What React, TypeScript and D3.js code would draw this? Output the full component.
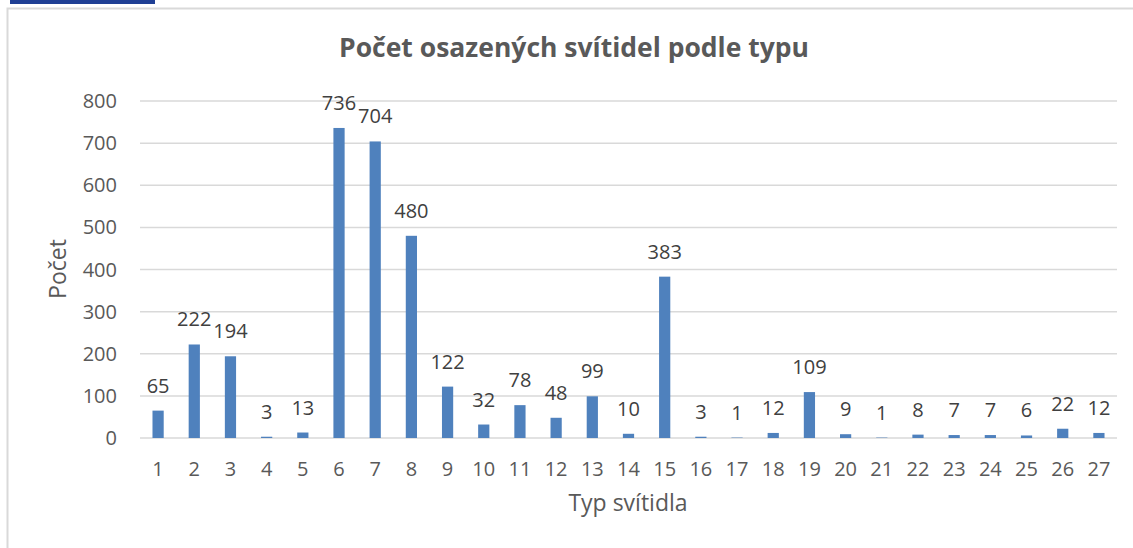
import React, { useEffect, useRef } from 'react';
import * as d3 from 'd3';

const categories = Array.from({ length: 27 }, (_, i) => String(i + 1));
const values = [65, 222, 194, 3, 13, 736, 704, 480, 122, 32, 78, 48, 99, 10, 383, 3, 1, 12, 109, 9, 1, 8, 7, 7, 6, 22, 12];
const yTicks = [0, 100, 200, 300, 400, 500, 600, 700, 800];

const title = 'Počet osazených svítidel podle typu';
const xTitle = 'Typ svítidla';
const yTitle = 'Počet';

const App = () => {
  const ref = useRef<SVGSVGElement>(null);

  useEffect(() => {
    if (!ref.current) return;
    const svg = d3.select(ref.current);
    svg.selectAll('*').remove();

    const width = 1133;
    const height = 548;
    const margin = { top: 101, right: 16, bottom: 110, left: 140 };
    const font = '"Open Sans", "Noto Sans", sans-serif';

    // frame of the chart area + top strip
    svg.append('rect').attr('x', 10).attr('y', 0).attr('width', 145).attr('height', 4).attr('fill', '#1f3f94');
    svg.append('path')
      .attr('d', `M7.5,${height} L7.5,8.5 L${width},8.5`)
      .attr('fill', 'none').attr('stroke', '#d9d9d9').attr('stroke-width', 2);

    const x = d3.scaleBand()
      .domain(categories)
      .range([margin.left, width - margin.right])
      .paddingInner(0.69)
      .paddingOuter(0.345);

    const y = d3.scaleLinear()
      .domain([0, 800])
      .range([height - margin.bottom, margin.top]);

    // grid
    svg.append('g')
      .selectAll('line')
      .data(yTicks)
      .join('line')
      .attr('x1', margin.left)
      .attr('x2', width - margin.right)
      .attr('y1', d => y(d))
      .attr('y2', d => y(d))
      .attr('stroke', '#d9d9d9')
      .attr('stroke-width', 1.5);

    // y tick labels
    svg.append('g')
      .selectAll('text')
      .data(yTicks)
      .join('text')
      .attr('x', 117)
      .attr('y', d => y(d) + 7)
      .attr('text-anchor', 'end')
      .attr('font-family', font)
      .attr('font-size', 20)
      .attr('fill', '#595959')
      .text(d => d);

    // bars
    svg.append('g')
      .attr('fill', '#4f81bd')
      .selectAll('rect')
      .data(values)
      .join('rect')
      .attr('x', (d, i) => x(categories[i])!)
      .attr('y', d => y(d))
      .attr('width', x.bandwidth())
      .attr('height', d => y(0) - y(d));

    // data labels
    svg.append('g')
      .selectAll('text')
      .data(values)
      .join('text')
      .attr('x', (d, i) => x(categories[i])! + x.bandwidth() / 2)
      .attr('y', d => y(d) - 18)
      .attr('text-anchor', 'middle')
      .attr('font-family', font)
      .attr('font-size', 20)
      .attr('fill', '#404040')
      .text(d => d);

    // x tick labels
    svg.append('g')
      .selectAll('text')
      .data(categories)
      .join('text')
      .attr('x', d => x(d)! + x.bandwidth() / 2)
      .attr('y', 476)
      .attr('text-anchor', 'middle')
      .attr('font-family', font)
      .attr('font-size', 20)
      .attr('fill', '#595959')
      .text(d => d);

    svg.append('text')
      .attr('x', 574)
      .attr('y', 57)
      .attr('text-anchor', 'middle')
      .attr('font-family', font)
      .attr('font-size', 26.5)
      .attr('font-weight', 'bold')
      .attr('fill', '#595959')
      .text(title);

    svg.append('text')
      .attr('x', 628)
      .attr('y', 511)
      .attr('text-anchor', 'middle')
      .attr('font-family', font)
      .attr('font-size', 23)
      .attr('fill', '#595959')
      .text(xTitle);

    svg.append('text')
      .attr('transform', 'translate(66,269) rotate(-90)')
      .attr('text-anchor', 'middle')
      .attr('font-family', font)
      .attr('font-size', 23)
      .attr('fill', '#595959')
      .text(yTitle);
  }, []);

  return (
    <svg
      ref={ref}
      width={1133}
      height={548}
      style={{ position: 'absolute', left: 0, top: 0, background: '#fff' }}
    />
  );
};

export default App;
